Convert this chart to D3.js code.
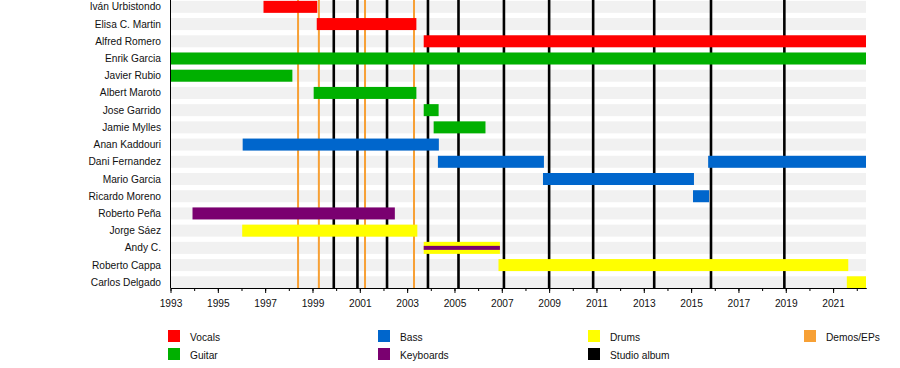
<!DOCTYPE html>
<html>
<head>
<meta charset="utf-8">
<script src="https://cdn.jsdelivr.net/npm/d3@7"></script>
<style>
  body { margin: 0; background: #fff; }
  text { font-family: "Liberation Sans", Arial, sans-serif; }
</style>
</head>
<body>
<div id="chart"></div>
<script>
// band members, top to bottom
var members = ["Iván Urbistondo", "Elisa C. Martin", "Alfred Romero", "Enrik Garcia",
  "Javier Rubio", "Albert Maroto", "Jose Garrido", "Jamie Mylles", "Anan Kaddouri",
  "Dani Fernandez", "Mario Garcia", "Ricardo Moreno", "Roberto Peña", "Jorge Sáez",
  "Andy C.", "Roberto Cappa", "Carlos Delgado"];

var roles = ["Vocals", "Guitar", "Bass", "Keyboards", "Drums"];
var roleColors = ["#ff0000", "#00b000", "#0066cc", "#7a0070", "#ffff00"];

// periods: member, role, from, to (decimal years)
var periods = [
  ["Iván Urbistondo", "Vocals", 1996.93, 1999.2],
  ["Elisa C. Martin", "Vocals", 1999.18, 2003.39],
  ["Alfred Romero", "Vocals", 2003.7, 2022.39],
  ["Enrik Garcia", "Guitar", 1993, 2022.39],
  ["Javier Rubio", "Guitar", 1993, 1998.15],
  ["Albert Maroto", "Guitar", 1999.05, 2003.39],
  ["Jose Garrido", "Guitar", 2003.7, 2004.33],
  ["Jamie Mylles", "Guitar", 2004.12, 2006.31],
  ["Anan Kaddouri", "Bass", 1996.05, 2004.34],
  ["Dani Fernandez", "Bass", 2004.3, 2008.78],
  ["Dani Fernandez", "Bass", 2015.72, 2022.39],
  ["Mario Garcia", "Bass", 2008.74, 2015.12],
  ["Ricardo Moreno", "Bass", 2015.08, 2015.76],
  ["Roberto Peña", "Keyboards", 1993.93, 2002.48],
  ["Jorge Sáez", "Drums", 1996.03, 2003.43],
  ["Andy C.", "Drums", 2003.7, 2006.92],
  ["Roberto Cappa", "Drums", 2006.86, 2021.64],
  ["Carlos Delgado", "Drums", 2021.58, 2022.39]
];
// secondary role drawn as a thin line inside the bar
var secondary = [
  ["Andy C.", "Keyboards", 2003.7, 2006.92]
];

var demos = [1998.39, 1999.27, 2001.22, 2003.29];
var albums = [1999.9, 2000.9, 2002.15, 2003.88, 2005.17, 2007.09, 2009.0,
  2010.86, 2013.44, 2015.84, 2018.94];

var majorTicks = d3.range(1993, 2022, 2);
var minorTicks = d3.range(1993, 2023, 1);

var legendItems = [
  ["Vocals", "#ff0000"], ["Guitar", "#00b000"],
  ["Bass", "#0066cc"], ["Keyboards", "#7a0070"],
  ["Drums", "#ffff00"], ["Studio album", "#000000"],
  ["Demos/EPs", "#f7a035"]
];

var width = 900, height = 368;

var svg = d3.select("#chart").append("svg")
  .attr("width", width)
  .attr("height", height);

var x = d3.scaleLinear().domain([1993, 2022.39]).range([170.5, 866]);
var y = d3.scalePoint().domain(members).range([6.85, 282.3]);
var color = d3.scaleOrdinal().domain(roles).range(roleColors);
var barH = 12;
var axisY = 288;

// gray stripes
svg.append("g").selectAll("rect")
  .data(members).enter().append("rect")
  .attr("x", x(1993))
  .attr("width", x(2022.39) - x(1993))
  .attr("y", function (d) { return y(d) - barH / 2; })
  .attr("height", barH)
  .attr("fill", "#f1f1f1");

// demo and album lines
svg.append("g").selectAll("line")
  .data(demos).enter().append("line")
  .attr("x1", function (d) { return x(d); })
  .attr("x2", function (d) { return x(d); })
  .attr("y1", 0).attr("y2", axisY)
  .attr("stroke", "#f7a035")
  .attr("stroke-width", 2);

svg.append("g").selectAll("line")
  .data(albums).enter().append("line")
  .attr("x1", function (d) { return x(d); })
  .attr("x2", function (d) { return x(d); })
  .attr("y1", 0).attr("y2", axisY)
  .attr("stroke", "#000")
  .attr("stroke-width", 2.6);

// bars
svg.append("g").selectAll("rect")
  .data(periods).enter().append("rect")
  .attr("x", function (d) { return x(d[2]); })
  .attr("width", function (d) { return x(d[3]) - x(d[2]); })
  .attr("y", function (d) { return y(d[0]) - barH / 2; })
  .attr("height", barH)
  .attr("fill", function (d) { return color(d[1]); });

svg.append("g").selectAll("rect")
  .data(secondary).enter().append("rect")
  .attr("x", function (d) { return x(d[2]); })
  .attr("width", function (d) { return x(d[3]) - x(d[2]); })
  .attr("y", function (d) { return y(d[0]) - 2; })
  .attr("height", 4)
  .attr("fill", function (d) { return color(d[1]); });

// names
svg.append("g").selectAll("text")
  .data(members).enter().append("text")
  .attr("x", 161)
  .attr("y", function (d) { return y(d); })
  .attr("dy", "0.35em")
  .attr("text-anchor", "end")
  .style("font-size", "10.2px")
  .attr("fill", "#111")
  .text(function (d) { return d; });

// left axis line
svg.append("line")
  .attr("x1", 170.5).attr("x2", 170.5)
  .attr("y1", 0).attr("y2", axisY)
  .attr("stroke", "#000");

// x axis: minor then major ticks
svg.append("g")
  .attr("transform", "translate(0," + axisY + ")")
  .call(d3.axisBottom(x).tickValues(minorTicks).tickSize(3).tickSizeOuter(0).tickFormat(""));

var xAxis = svg.append("g")
  .attr("transform", "translate(0," + axisY + ")")
  .call(d3.axisBottom(x).tickValues(majorTicks).tickSize(5).tickSizeOuter(0).tickFormat(d3.format("d")));
xAxis.selectAll("text")
  .style("font-size", "10.2px")
  .style("font-family", "Liberation Sans, Arial, sans-serif")
  .attr("fill", "#111")
  .attr("y", 12);

// legend
var legendPos = [[168, 330], [168, 348], [378, 330], [378, 348], [588, 330], [588, 348], [804, 330]];
var legend = svg.append("g").selectAll("g")
  .data(legendItems).enter().append("g")
  .attr("transform", function (d, i) { return "translate(" + legendPos[i][0] + "," + legendPos[i][1] + ")"; });
legend.append("rect")
  .attr("width", 12).attr("height", 12)
  .attr("fill", function (d) { return d[1]; });
legend.append("text")
  .attr("x", 22).attr("y", 7).attr("dy", "0.35em")
  .style("font-size", "10.2px")
  .attr("fill", "#111")
  .text(function (d) { return d[0]; });
</script>
</body>
</html>
